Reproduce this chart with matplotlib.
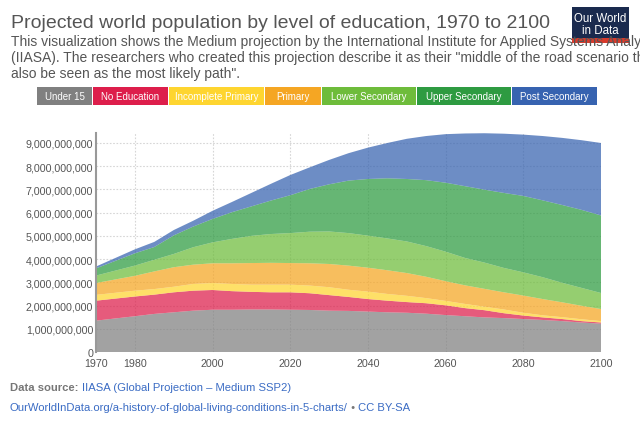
import matplotlib
matplotlib.use('Agg')
import matplotlib.pyplot as plt
from matplotlib.patches import Rectangle
from matplotlib.ticker import FuncFormatter, FixedLocator
import numpy as np

plt.rcParams['font.family'] = ['Liberation Sans', 'DejaVu Sans']

# ---------------- data (billions of people) ----------------
years = [1970, 1980, 1985, 1990, 1995, 2000, 2005, 2010, 2015, 2020, 2025, 2030, 2035,
         2040, 2045, 2050, 2055, 2060, 2065, 2070, 2075, 2080, 2085, 2090, 2095, 2100]

under_15 = [1.35, 1.54, 1.64, 1.71, 1.78, 1.82, 1.82, 1.83, 1.83, 1.82, 1.81, 1.78, 1.77,
            1.74, 1.71, 1.69, 1.65, 1.59, 1.54, 1.49, 1.46, 1.42, 1.38, 1.33, 1.27, 1.22]
no_education = [0.86, 0.85, 0.83, 0.86, 0.86, 0.85, 0.80, 0.76, 0.74, 0.75, 0.72, 0.67, 0.60,
                0.54, 0.50, 0.46, 0.45, 0.42, 0.35, 0.31, 0.21, 0.15, 0.11, 0.09, 0.06, 0.05]
incomplete_primary = [0.25, 0.25, 0.24, 0.24, 0.29, 0.30, 0.31, 0.31, 0.33, 0.33, 0.33, 0.34, 0.31,
                      0.32, 0.29, 0.27, 0.22, 0.19, 0.18, 0.15, 0.16, 0.12, 0.09, 0.08, 0.08, 0.06]
primary = [0.51, 0.64, 0.76, 0.84, 0.83, 0.85, 0.89, 0.93, 0.94, 0.93, 0.96, 1.00, 1.04,
           1.03, 1.02, 0.98, 0.92, 0.85, 0.80, 0.77, 0.74, 0.74, 0.70, 0.64, 0.58, 0.52]
lower_secondary = [0.32, 0.44, 0.50, 0.57, 0.75, 0.90, 1.05, 1.17, 1.24, 1.29, 1.36, 1.40, 1.40,
                   1.38, 1.37, 1.36, 1.32, 1.27, 1.18, 1.13, 1.05, 1.00, 0.94, 0.84, 0.77, 0.69]
upper_secondary = [0.31, 0.53, 0.55, 0.80, 0.89, 1.01, 1.15, 1.27, 1.44, 1.63, 1.84, 2.03, 2.26,
                   2.44, 2.59, 2.69, 2.84, 2.97, 3.09, 3.14, 3.23, 3.29, 3.31, 3.35, 3.36, 3.34]
post_secondary = [0.08, 0.17, 0.22, 0.23, 0.25, 0.35, 0.44, 0.58, 0.72, 0.87, 0.93, 1.05, 1.18,
                  1.35, 1.52, 1.73, 1.90, 2.09, 2.27, 2.43, 2.55, 2.64, 2.77, 2.89, 3.00, 3.12]

categories = ["Under 15", "No Education", "Incomplete Primary", "Primary",
              "Lower Secondary", "Upper Secondary", "Post Secondary"]
colors = ["#808080", "#dd1e4b", "#fed530", "#f5a623", "#6ebc3b", "#2e9b41", "#3763b0"]

x_ticks = [1970, 1980, 2000, 2020, 2040, 2060, 2080, 2100]
y_ticks = [0, 1e9, 2e9, 3e9, 4e9, 5e9, 6e9, 7e9, 8e9, 9e9]

title = "Projected world population by level of education, 1970 to 2100"
subtitle = [
    "This visualization shows the Medium projection by the International Institute for Applied Systems Analysis",
    "(IIASA). The researchers who created this projection describe it as their \"middle of the road scenario that can",
    "also be seen as the most likely path\".",
]

# ---------------- figure ----------------
W, H = 640, 427
fig = plt.figure(figsize=(W / 100, H / 100), dpi=100)
fig.patch.set_facecolor('white')


def fx(x):
    return x / W


def fy(y):
    return 1 - y / H


ax = fig.add_axes([fx(96), fy(353), (601 - 96) / W, (353 - 134) / H])

series = [np.array(s) * 1e9 for s in [under_15, no_education, incomplete_primary, primary,
                                      lower_secondary, upper_secondary, post_secondary]]
ax.stackplot(years, *series, colors=colors, alpha=0.73, linewidth=0, zorder=2)

ax.set_xlim(1970, 2100)
ax.set_ylim(0, 9.43e9)
ax.xaxis.set_major_locator(FixedLocator(x_ticks))
ax.yaxis.set_major_locator(FixedLocator(y_ticks))
ax.yaxis.set_major_formatter(FuncFormatter(lambda v, p: f"{int(round(v)):,}"))
ax.tick_params(axis='both', length=0, labelsize=7.7, labelcolor='#555555')
ax.tick_params(axis='y', pad=2)
ax.tick_params(axis='x', pad=4)

for v in y_ticks[1:]:
    ax.axhline(v, color='#d6d6d6', lw=0.8, ls=(0, (1.5, 1.5)), zorder=1)
for v in x_ticks[1:-1]:
    ax.axvline(v, color='#d6d6d6', lw=0.8, ls=(0, (1.5, 1.5)), zorder=1)

for s in ['top', 'right', 'bottom']:
    ax.spines[s].set_visible(False)
ax.spines['left'].set_color('#999999')
ax.spines['left'].set_linewidth(1.5)

# ---------------- header ----------------
fig.text(fx(11), fy(28), title, fontsize=14, color='#555555', va='baseline')
for i, line in enumerate(subtitle):
    fig.text(fx(11), fy(46 + 16 * i), line, fontsize=10, color='#555555', va='baseline', zorder=5)

# logo
fig.patches.append(Rectangle((fx(572), fy(39)), 57 / W, 31 / H, transform=fig.transFigure,
                             facecolor='#1a2a4e', edgecolor='none', zorder=3))
fig.patches.append(Rectangle((fx(572), fy(44)), 57 / W, 5 / H, transform=fig.transFigure,
                             facecolor='#d73a2c', edgecolor='none', zorder=3))
fig.text(fx(600.5), fy(19.5), "Our World", fontsize=8.3, color='white', ha='center', va='center',
         zorder=6)
fig.text(fx(600.5), fy(31), "in Data", fontsize=8.3, color='white', ha='center', va='center',
         zorder=6)

# legend
legend_boxes = [(37, 92), (93, 168), (169, 264), (265, 321), (322, 416), (417, 511), (512, 597)]
for (x0, x1), lab, col in zip(legend_boxes, categories, colors):
    fig.patches.append(Rectangle((fx(x0), fy(106)), (x1 - x0) / W, 18 / H, transform=fig.transFigure,
                                 facecolor=col, edgecolor='none'))
    fig.text(fx((x0 + x1) / 2), fy(97.5), lab, fontsize=7, color='white', ha='center', va='center')

# ---------------- footer ----------------
fs = 8.1
t1 = fig.text(fx(10), fy(391), "Data source: ", fontsize=fs, color='#777777', weight='bold', va='baseline')
ax.annotate("IIASA (Global Projection – Medium SSP2)", xy=(1, 0), xycoords=t1, fontsize=fs,
            color='#3b6cc4', va='bottom', ha='left', annotation_clip=False)
t2 = fig.text(fx(10), fy(411), "OurWorldInData.org/a-history-of-global-living-conditions-in-5-charts/",
              fontsize=fs, color='#3b6cc4', va='baseline')
t3 = ax.annotate(" • ", xy=(1, 0), xycoords=t2, fontsize=fs, color='#777777', va='bottom', ha='left',
                 annotation_clip=False)
ax.annotate("CC BY-SA", xy=(1, 0), xycoords=t3, fontsize=fs, color='#3b6cc4', va='bottom', ha='left',
            annotation_clip=False)

fig.savefig('out.png', dpi=100)
